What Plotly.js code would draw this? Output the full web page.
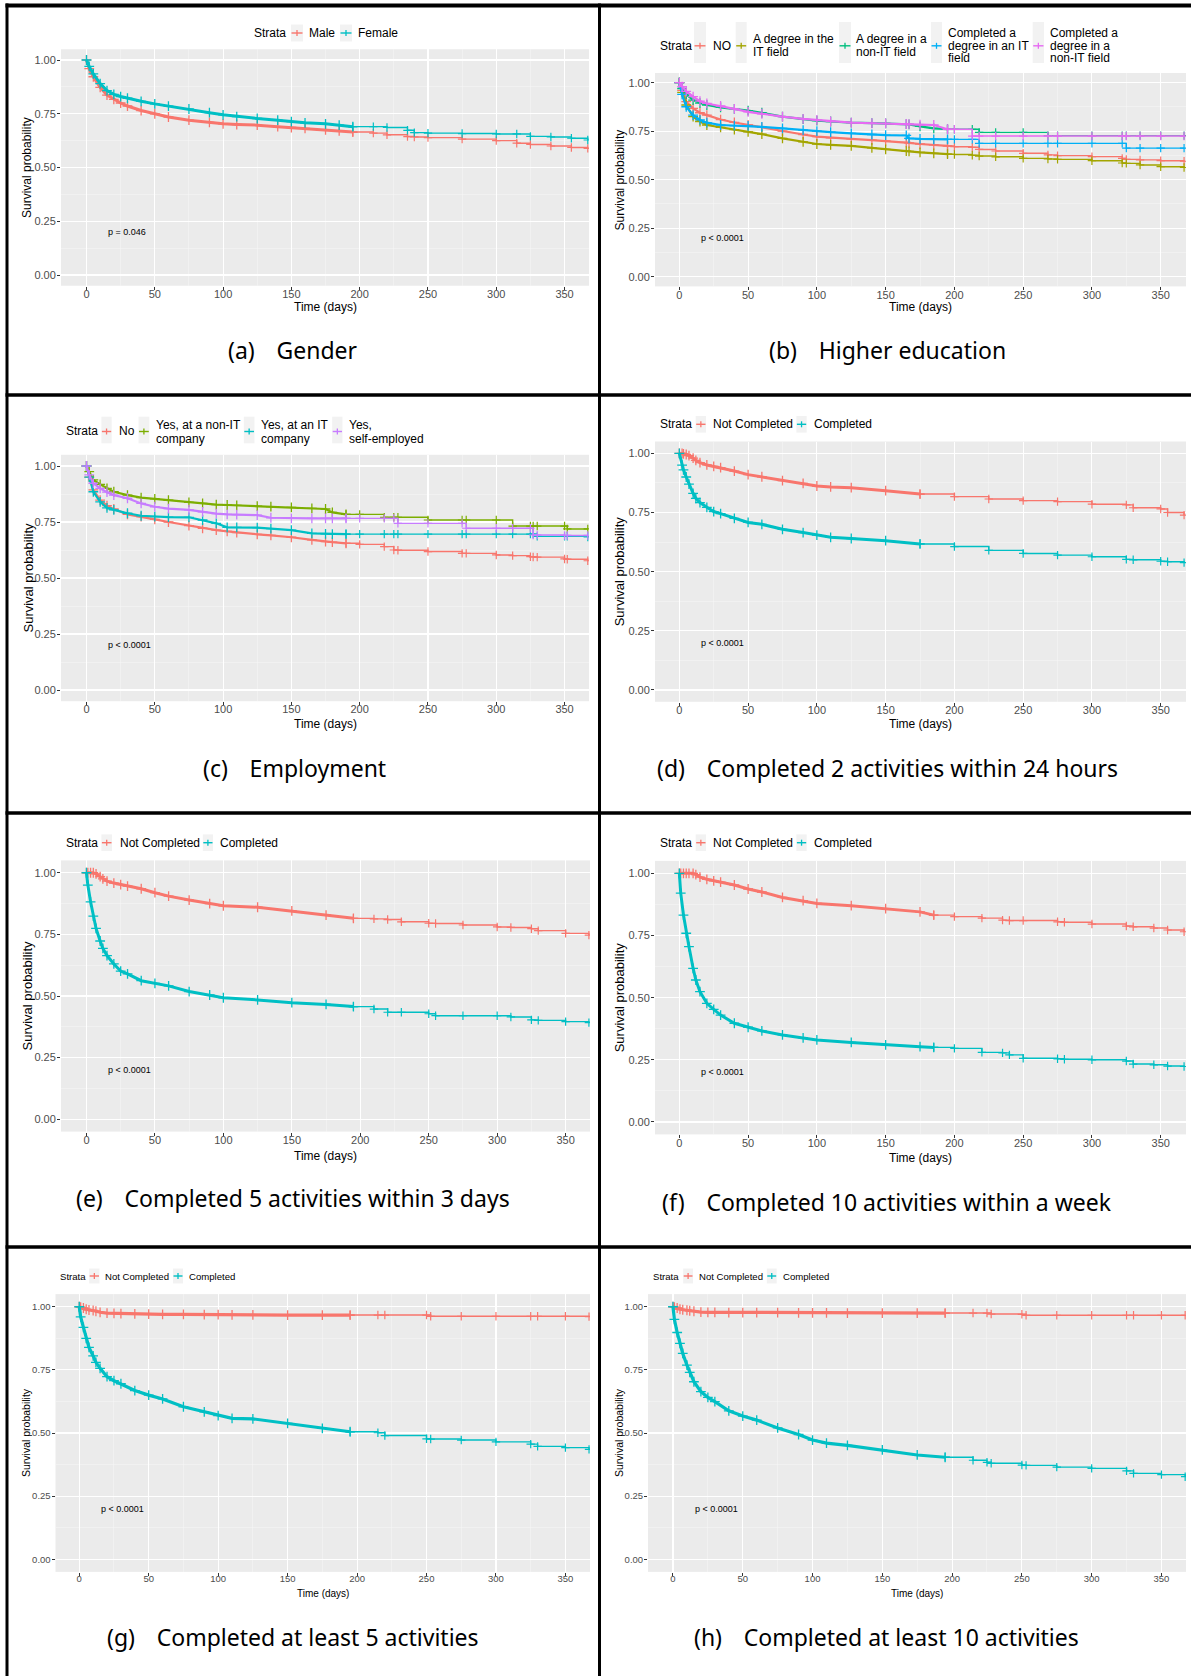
<!DOCTYPE html>
<html><head><meta charset="utf-8">
<script src="https://cdn.plot.ly/plotly-3.0.1.min.js"></script>
<style>html,body{margin:0;padding:0;background:#fff}#chart{width:1191px;height:1676px}</style>
</head><body><div id="chart"></div>
<script>
// ================= DATA =================
const xTickVals = [0, 50, 100, 150, 200, 250, 300, 350];
const yTickVals = [0, 0.25, 0.5, 0.75, 1];
const yTickText = ['0.00', '0.25', '0.50', '0.75', '1.00'];
const legendTitle = 'Strata';
const xTitle = 'Time (days)';
const yTitle = 'Survival probability';

// (a) Gender
const aTime   = [0,2,5,10,15,20,25,30,40,50,60,75,90,100,110,125,140,150,160,175,185,195,210,220,235,240,250,275,300,315,325,340,355,367];
const aMale   = [1.0,0.96,0.922,0.873,0.837,0.817,0.80,0.786,0.765,0.75,0.735,0.72,0.71,0.703,0.70,0.697,0.69,0.686,0.682,0.675,0.67,0.665,0.66,0.652,0.644,0.642,0.639,0.632,0.625,0.613,0.607,0.60,0.593,0.589];
const aFemale = [1.0,0.97,0.935,0.89,0.858,0.84,0.83,0.822,0.808,0.796,0.785,0.772,0.755,0.745,0.737,0.728,0.72,0.713,0.708,0.703,0.697,0.69,0.69,0.686,0.673,0.662,0.66,0.658,0.656,0.656,0.645,0.642,0.636,0.628];
const aLabels = ['Male', 'Female'];

// (b) Higher education
const bTime   = [0,2,5,10,15,20,30,40,50,60,75,90,100,110,125,140,150,165,167,175,185,195,200,213,218,230,250,268,275,300,322,325,335,350,367];
const bNo     = [1.0,0.96,0.902,0.868,0.845,0.833,0.81,0.795,0.782,0.77,0.75,0.733,0.722,0.716,0.71,0.704,0.70,0.692,0.69,0.684,0.679,0.674,0.67,0.667,0.656,0.648,0.636,0.628,0.624,0.619,0.61,0.605,0.602,0.598,0.595];
const bIT     = [1.0,0.95,0.885,0.825,0.80,0.782,0.77,0.758,0.747,0.735,0.713,0.695,0.684,0.68,0.674,0.664,0.656,0.647,0.646,0.641,0.636,0.632,0.63,0.626,0.622,0.618,0.61,0.607,0.605,0.598,0.586,0.584,0.576,0.567,0.563];
const bNonIT  = [1.0,0.97,0.94,0.91,0.895,0.885,0.873,0.865,0.856,0.845,0.825,0.812,0.804,0.80,0.794,0.792,0.79,0.786,0.785,0.775,0.765,0.76,0.76,0.76,0.744,0.744,0.744,0.727,0.727,0.727,0.727,0.727,0.727,0.727,0.727];
const bCompIT = [1.0,0.94,0.876,0.833,0.808,0.794,0.782,0.779,0.777,0.772,0.765,0.756,0.75,0.745,0.739,0.733,0.73,0.728,0.713,0.71,0.708,0.708,0.708,0.708,0.687,0.687,0.687,0.687,0.687,0.687,0.687,0.663,0.663,0.663,0.663];
const bCompNonIT = [1.0,0.98,0.955,0.928,0.905,0.893,0.88,0.865,0.85,0.84,0.825,0.814,0.808,0.80,0.794,0.791,0.79,0.787,0.786,0.784,0.782,0.76,0.76,0.725,0.725,0.725,0.725,0.725,0.725,0.725,0.725,0.725,0.725,0.725,0.725];
const bLabels = ['NO', 'A degree in the\nIT field', 'A degree in a\nnon-IT field', 'Completed a\ndegree in an IT\nfield', 'Completed a\ndegree in a\nnon-IT field'];

// (c) Employment
const cTime   = [0,2,5,10,15,20,30,40,50,60,75,85,95,103,110,125,135,150,165,175,180,190,200,218,225,228,250,275,278,300,312,325,327,330,350,352,367];
const cNo     = [1.0,0.95,0.893,0.848,0.823,0.808,0.784,0.774,0.762,0.75,0.734,0.722,0.714,0.708,0.703,0.695,0.69,0.682,0.67,0.662,0.66,0.655,0.65,0.64,0.625,0.624,0.618,0.61,0.61,0.603,0.60,0.595,0.594,0.593,0.585,0.584,0.577];
const cNonIT  = [1.0,0.975,0.938,0.918,0.90,0.885,0.87,0.859,0.853,0.847,0.838,0.833,0.828,0.826,0.824,0.821,0.819,0.815,0.811,0.808,0.793,0.784,0.784,0.771,0.771,0.771,0.759,0.759,0.759,0.759,0.732,0.732,0.732,0.732,0.732,0.719,0.719];
const cIT     = [1.0,0.95,0.885,0.84,0.813,0.804,0.789,0.778,0.774,0.772,0.771,0.759,0.744,0.726,0.726,0.725,0.72,0.714,0.699,0.697,0.696,0.696,0.696,0.696,0.696,0.696,0.696,0.696,0.696,0.696,0.696,0.696,0.696,0.686,0.686,0.686,0.683];
const cSelf   = [1.0,0.96,0.923,0.90,0.883,0.87,0.856,0.833,0.818,0.81,0.804,0.795,0.787,0.784,0.783,0.781,0.769,0.766,0.766,0.766,0.766,0.766,0.766,0.766,0.766,0.744,0.744,0.744,0.722,0.722,0.722,0.722,0.692,0.692,0.69,0.69,0.69];
const cLabels = ['No', 'Yes, at a non-IT\ncompany', 'Yes, at an IT\ncompany', 'Yes,\nself-employed'];

// (d) Completed 2 activities within 24 hours
const dTime = [0,2,3,5,7,10,12,15,20,25,30,40,50,60,75,90,100,110,125,150,175,200,225,250,275,300,325,330,350,355,367];
const dNot  = [1.0,1.0,0.998,0.995,0.99,0.98,0.97,0.961,0.951,0.945,0.94,0.925,0.91,0.901,0.885,0.873,0.862,0.858,0.855,0.842,0.828,0.817,0.807,0.80,0.796,0.785,0.782,0.77,0.765,0.75,0.739];
const dComp = [1.0,0.95,0.93,0.90,0.87,0.831,0.81,0.792,0.772,0.754,0.745,0.725,0.708,0.70,0.679,0.665,0.654,0.645,0.64,0.631,0.617,0.606,0.59,0.577,0.57,0.563,0.552,0.55,0.544,0.542,0.538];

// (e) Completed 5 activities within 3 days
const eTime = [0,1,3,5,7,10,12,15,20,25,30,40,50,60,75,90,100,125,150,175,195,210,220,230,250,255,275,300,310,325,330,350,367];
const eNot  = [1.0,1.0,1.0,1.0,0.995,0.984,0.975,0.966,0.958,0.952,0.946,0.935,0.919,0.905,0.889,0.875,0.866,0.86,0.845,0.828,0.815,0.813,0.81,0.801,0.795,0.794,0.788,0.78,0.778,0.773,0.765,0.754,0.747];
const eComp = [1.0,0.95,0.882,0.824,0.774,0.723,0.693,0.664,0.63,0.601,0.59,0.562,0.551,0.541,0.518,0.504,0.493,0.484,0.473,0.466,0.457,0.447,0.434,0.434,0.428,0.42,0.42,0.42,0.415,0.403,0.401,0.396,0.392];

// (f) Completed 10 activities within a week
const fTime = [0,1,3,5,7,10,12,15,20,25,30,40,50,60,75,90,100,125,150,175,185,200,220,235,240,250,275,280,300,325,330,345,355,367];
const fNot  = [1.0,1.0,1.0,1.0,1.0,1.0,0.995,0.985,0.976,0.97,0.965,0.953,0.937,0.925,0.903,0.89,0.879,0.87,0.858,0.845,0.832,0.826,0.82,0.812,0.81,0.81,0.805,0.803,0.796,0.788,0.785,0.78,0.772,0.765];
const fComp = [1.0,0.92,0.832,0.759,0.705,0.618,0.571,0.524,0.477,0.453,0.43,0.397,0.381,0.366,0.35,0.338,0.33,0.32,0.31,0.303,0.30,0.296,0.28,0.278,0.27,0.256,0.254,0.252,0.25,0.245,0.233,0.23,0.225,0.223];

// (g) Completed at least 5 activities
const gTime = [0,1,3,5,7,10,12,15,20,25,30,40,50,60,75,90,100,110,125,150,175,195,215,220,250,253,275,300,325,330,350,367];
const gNot  = [1.0,0.998,0.995,0.99,0.987,0.985,0.982,0.978,0.975,0.974,0.973,0.972,0.971,0.97,0.97,0.969,0.969,0.968,0.968,0.967,0.967,0.967,0.967,0.967,0.967,0.962,0.962,0.962,0.962,0.962,0.962,0.961];
const gComp = [1.0,0.96,0.918,0.875,0.839,0.805,0.78,0.756,0.723,0.707,0.695,0.668,0.65,0.635,0.604,0.584,0.569,0.558,0.556,0.538,0.518,0.505,0.501,0.49,0.477,0.476,0.472,0.465,0.456,0.447,0.442,0.435];

// (h) Completed at least 10 activities
const hTime = [0,1,3,5,7,10,12,15,20,25,30,40,50,60,75,90,100,110,125,150,175,195,215,225,228,250,253,275,300,325,330,350,367];
const hNot  = [1.0,0.998,0.995,0.99,0.988,0.986,0.984,0.982,0.979,0.978,0.978,0.977,0.977,0.977,0.977,0.976,0.976,0.976,0.975,0.975,0.975,0.975,0.975,0.975,0.971,0.97,0.966,0.966,0.966,0.966,0.966,0.966,0.966];
const hComp = [1.0,0.95,0.898,0.855,0.815,0.769,0.74,0.703,0.664,0.641,0.624,0.588,0.567,0.551,0.52,0.494,0.472,0.46,0.451,0.433,0.413,0.404,0.392,0.384,0.38,0.373,0.372,0.365,0.36,0.35,0.34,0.335,0.327];

const compLabels = ['Not Completed', 'Completed'];
const panelLetters = ['(a)', '(b)', '(c)', '(d)', '(e)', '(f)', '(g)', '(h)'];
const panelCaptions = ['Gender', 'Higher education', 'Employment', 'Completed 2 activities within 24 hours',
  'Completed 5 activities within 3 days', 'Completed 10 activities within a week',
  'Completed at least 5 activities', 'Completed at least 10 activities'];
const pValueText = ['p = 0.046', 'p < 0.0001', 'p < 0.0001', 'p < 0.0001', 'p < 0.0001', 'p < 0.0001', 'p < 0.0001', 'p < 0.0001'];

// ================= STYLE / LAYOUT =================
const col2 = ['#F8766D', '#00BFC4'];
const col4 = ['#F8766D', '#7CAE00', '#00BFC4', '#C77CFF'];
const col5 = ['#F8766D', '#A3A500', '#00BF7D', '#00B0F6', '#E76BF3'];
const W = 1191, H = 1676;
const FONT = 'Liberation Sans, Arial, sans-serif';
const CAPFONT = 'Noto Sans, Open Sans, sans-serif';
const DENSE_UNTIL = 195;   // heavily censored early part is drawn as a thick band

const panels = [
  {time: aTime, series: [aMale, aFemale], labels: aLabels, colors: col2, band: 3,
   px: [61, 589], py: [49.25, 285.75], xr: [-18.67, 367.9], tick: 11, ttl: 12, yttl: 12,
   ytX: 27.5, xtY: 307, capX: 293, capY: 350,
   legY: 33, strataX: 253, keys: [[291, 303], [340, 352]], texts: [308, 357], keyBox: [24.5, 41.5], gap: 12.6, legSize: 12},
  {time: bTime, series: [bNo, bIT, bNonIT, bCompIT, bCompNonIT], labels: bLabels, colors: col5, band: 2.2,
   px: [655, 1186], py: [73, 286.4], xr: [-17.7, 368.4], tick: 11, ttl: 12, yttl: 12,
   ytX: 619.7, xtY: 307, capX: 887, capY: 350,
   legY: 45.8, strataX: 658.5, keys: [[694, 706], [735.7, 746.7], [839, 851], [931, 942], [1032.7, 1044]],
   texts: [711.5, 752, 855, 947, 1049], keyBox: [22, 63], gap: 12.6, legSize: 12},
  {time: cTime, series: [cNo, cNonIT, cIT, cSelf], labels: cLabels, colors: col4, band: 2.2,
   px: [61, 589], py: [454.8, 701.2], xr: [-18.67, 367.9], tick: 11, ttl: 12, yttl: 13,
   ytX: 27.5, xtY: 724, capX: 294, capY: 768,
   legY: 431.5, strataX: 65, keys: [[101.4, 111.7], [138.5, 149.3], [243.8, 254.5], [332.2, 342.5]],
   texts: [117.9, 155, 260.2, 348.3], keyBox: [416.7, 443.3], gap: 14, legSize: 12},
  {time: dTime, series: [dNot, dComp], labels: compLabels, colors: col2, band: 3,
   px: [655, 1186], py: [441.5, 701.8], xr: [-17.7, 368.4], tick: 11, ttl: 12, yttl: 13,
   ytX: 619.7, xtY: 724, capX: 887, capY: 768,
   legY: 424.3, strataX: 658.9, keys: [[695.7, 706], [796.4, 806.7]], texts: [712, 812.8], keyBox: [416, 432.6], gap: 14, legSize: 12},
  {time: eTime, series: [eNot, eComp], labels: compLabels, colors: col2, band: 3,
   px: [61, 590], py: [860.4, 1131.6], xr: [-18.6, 367.8], tick: 11, ttl: 12, yttl: 13,
   ytX: 27.5, xtY: 1155.7, capX: 293, capY: 1198,
   legY: 842.7, strataX: 65, keys: [[101.4, 112], [202.8, 213]], texts: [118.6, 219], keyBox: [834.4, 851], gap: 14, legSize: 12},
  {time: fTime, series: [fNot, fComp], labels: compLabels, colors: col2, band: 3,
   px: [655, 1186], py: [860.9, 1134.4], xr: [-17.7, 368.4], tick: 11, ttl: 12, yttl: 13,
   ytX: 619.7, xtY: 1158.3, capX: 887, capY: 1201.7,
   legY: 842.7, strataX: 658.9, keys: [[695.7, 706], [796.4, 806.7]], texts: [712, 812.8], keyBox: [834.4, 851], gap: 14, legSize: 12},
  {time: gTime, series: [gNot, gComp], labels: compLabels, colors: col2, band: 3.2,
   px: [55.5, 590], py: [1294.1, 1571.9], xr: [-17.1, 367.7], tick: 9.5, ttl: 10, yttl: 10.5,
   ytX: 26, xtY: 1593.3, capX: 293, capY: 1636.7,
   legY: 1276, strataX: 58.6, keys: [[89.2, 99.5], [173, 183]], texts: [104, 188.3], keyBox: [1268.5, 1283.5], gap: 12, legSize: 9.6},
  {time: hTime, series: [hNot, hComp], labels: compLabels, colors: col2, band: 3.2,
   px: [648, 1186], py: [1294.1, 1571.9], xr: [-17.9, 367.6], tick: 9.5, ttl: 10, yttl: 10.5,
   ytX: 619, xtY: 1593.3, capX: 886, capY: 1636.7,
   legY: 1276, strataX: 652, keys: [[683.2, 693], [766.8, 776.7]], texts: [698.4, 782.4], keyBox: [1268.5, 1283.5], gap: 12, legSize: 9.6}
];

const PX = p => p / W;
const PY = p => 1 - p / H;

const traces = [];
const layout = {
  width: W, height: H, margin: {l: 0, r: 0, t: 0, b: 0},
  paper_bgcolor: '#FFFFFF', plot_bgcolor: '#EBEBEB', showlegend: false,
  font: {family: FONT, color: '#000000'},
  annotations: [], shapes: []
};

panels.forEach((P, i) => {
  const s = i === 0 ? '' : String(i + 1);
  const xa = 'x' + s, ya = 'y' + s;
  // split index: dense (early) part vs sparse tail
  let cut = 0;
  P.time.forEach((t, k) => { if (t <= DENSE_UNTIL) cut = k; });
  P.series.forEach((vals, j) => {
    const name = P.labels[j].replace(/\n/g, ' ');
    const c = P.colors[j];
    traces.push({
      type: 'scatter', mode: 'lines+markers', x: P.time.slice(0, cut + 1), y: vals.slice(0, cut + 1),
      xaxis: xa, yaxis: ya, name: name,
      line: {color: c, width: P.band, shape: 'linear'},
      marker: {symbol: 'cross-thin', size: 7, color: c, line: {color: c, width: 1.3}},
      showlegend: false, hoverinfo: 'x+y+name'
    });
    traces.push({
      type: 'scatter', mode: 'lines+markers', x: P.time.slice(cut), y: vals.slice(cut),
      xaxis: xa, yaxis: ya, name: name,
      line: {color: c, width: 1.4, shape: 'hv'},
      marker: {symbol: 'cross-thin', size: 6, color: c, line: {color: c, width: 1.2}},
      showlegend: false, hoverinfo: 'x+y+name'
    });
  });
  layout['xaxis' + s] = {
    domain: [PX(P.px[0]), PX(P.px[1])], range: P.xr, anchor: ya,
    tickmode: 'array', tickvals: xTickVals, ticks: 'outside', ticklen: 3, tickwidth: 1, tickcolor: '#333333',
    tickfont: {family: FONT, size: P.tick, color: '#4D4D4D'}, ticklabelstandoff: -5,
    showgrid: true, gridcolor: '#FFFFFF', gridwidth: 1.1, zeroline: false, showline: false,
    minor: {tickvals: [25, 75, 125, 175, 225, 275, 325], showgrid: true, gridcolor: '#F6F6F6', gridwidth: 0.55, ticks: ''}
  };
  layout['yaxis' + s] = {
    domain: [PY(P.py[1]), PY(P.py[0])], range: [-0.05, 1.05], anchor: xa,
    tickmode: 'array', tickvals: yTickVals, ticktext: yTickText, ticks: 'outside', ticklen: 3, tickwidth: 1, tickcolor: '#333333',
    tickfont: {family: FONT, size: P.tick, color: '#4D4D4D'}, ticklabelstandoff: -1,
    showgrid: true, gridcolor: '#FFFFFF', gridwidth: 1.1, zeroline: false, showline: false,
    minor: {tickvals: [0.125, 0.375, 0.625, 0.875], showgrid: true, gridcolor: '#F6F6F6', gridwidth: 0.55, ticks: ''}
  };
  // axis titles
  layout.annotations.push({xref: 'paper', yref: ya + ' domain', x: PX(P.ytX), y: 0.5, text: yTitle, textangle: -90,
    showarrow: false, xanchor: 'center', yanchor: 'middle', font: {family: FONT, size: P.yttl, color: '#000'}});
  layout.annotations.push({xref: xa + ' domain', yref: 'paper', x: 0.5, y: PY(P.xtY), text: xTitle,
    showarrow: false, xanchor: 'center', yanchor: 'middle', font: {family: FONT, size: P.ttl, color: '#000'}});
  // p-value
  layout.annotations.push({xref: xa, yref: ya, x: 14.5, y: 0.2, text: pValueText[i], showarrow: false,
    xanchor: 'left', yanchor: 'middle', font: {family: FONT, size: 9, color: '#000'}});
  // caption
  layout.annotations.push({xref: 'paper', yref: 'paper', x: PX(P.capX), y: PY(P.capY),
    text: panelLetters[i] + '\u00a0\u00a0\u00a0\u2009' + panelCaptions[i], showarrow: false,
    xanchor: 'center', yanchor: 'middle', font: {family: CAPFONT, size: 23, color: '#000'}});
  // legend (ggplot style, drawn at top of each panel)
  layout.annotations.push({xref: 'paper', yref: 'paper', x: PX(P.strataX), y: PY(P.legY), text: legendTitle,
    showarrow: false, xanchor: 'left', yanchor: 'middle', borderpad: 0, font: {family: FONT, size: P.legSize, color: '#000'}});
  P.labels.forEach((lab, j) => {
    const k = P.keys[j];
    layout.shapes.push({type: 'rect', xref: 'paper', yref: 'paper', x0: PX(k[0]), x1: PX(k[1]),
      y0: PY(P.keyBox[1]), y1: PY(P.keyBox[0]), fillcolor: '#F2F2F2', line: {width: 0}, layer: 'below'});
    layout.shapes.push({type: 'line', xref: 'paper', yref: 'paper', x0: PX(k[0] + 0.5), x1: PX(k[1] - 0.5),
      y0: PY(P.legY), y1: PY(P.legY), line: {color: P.colors[j], width: 1.4}});
    const cx = (k[0] + k[1]) / 2;
    layout.shapes.push({type: 'line', xref: 'paper', yref: 'paper', x0: PX(cx), x1: PX(cx),
      y0: PY(P.legY - 3), y1: PY(P.legY + 3), line: {color: P.colors[j], width: 1.3}});
    const lines = lab.split('\n');
    lines.forEach((ln, m) => {
      const yy = P.legY + (m - (lines.length - 1) / 2) * P.gap;
      layout.annotations.push({xref: 'paper', yref: 'paper', x: PX(P.texts[j]), y: PY(yy), text: ln,
        showarrow: false, xanchor: 'left', yanchor: 'middle', borderpad: 0, font: {family: FONT, size: P.legSize, color: '#000'}});
    });
  });
});

// frame (table borders of the figure)
const frameH = [5.5, 395, 813, 1247];
const frameV = [7, 599.5];
frameH.forEach((y, i) => layout.shapes.push({type: 'line', xref: 'paper', yref: 'paper',
  x0: PX(5.5), x1: 1, y0: PY(y), y1: PY(y), line: {color: '#000', width: i === 0 ? 4 : 3.5}}));
frameV.forEach(x => layout.shapes.push({type: 'line', xref: 'paper', yref: 'paper',
  x0: PX(x), x1: PX(x), y0: PY(3.5), y1: 0, line: {color: '#000', width: 3}}));

Plotly.newPlot('chart', traces, layout, {displayModeBar: false, staticPlot: true});
</script>
</body></html>
